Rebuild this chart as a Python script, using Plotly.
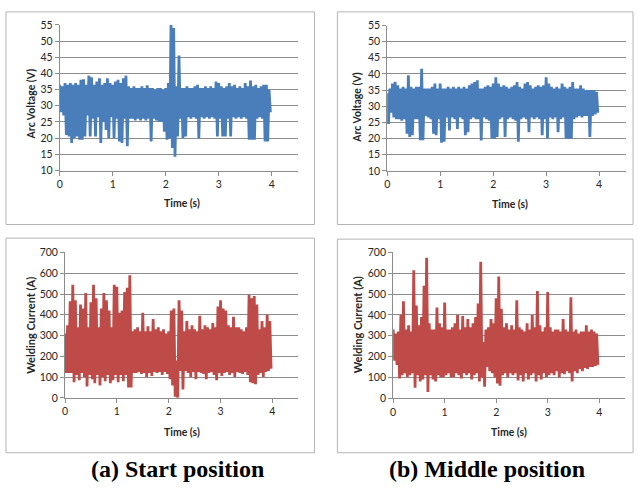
import plotly.graph_objects as go

W, H = 638, 489

# sample times: 0.00 .. 3.95 s, step 0.05 s (upper/lower envelope per sample)
t_step = 0.05

# (a) Start position - Arc Voltage (V), upper and lower envelope per sample
volt_a_high = [36.5, 36, 37, 36.5, 37, 36.5, 37, 36.5, 38, 38.2,
               36.5, 39.3, 38.8, 36.5, 37.5, 38.5, 36.5, 37, 38.5, 37,
               36.5, 37.5, 38, 37, 38.5, 39.3, 36, 35.5, 36, 35.5,
               35.5, 36, 35.5, 36.3, 35.5, 35.5, 35, 35.5, 35.5, 35,
               35.5, 37, 55, 54, 36, 45.5, 35.5, 35.5, 36, 35.5,
               35.5, 36, 36.5, 35.5, 35.5, 36, 35.5, 36, 35.5, 37.5,
               37, 36, 35.5, 36, 37, 36, 36.5, 35.5, 36, 35.5,
               37, 36, 37.8, 36, 36.5, 35.5, 36, 36.5, 36.5, 35]
volt_a_low = [28, 27, 21, 20.5, 18.5, 20, 20.5, 19.5, 19.5, 20.5,
              27, 20.5, 26, 20.5, 26.5, 18.5, 25, 22.5, 20, 26.5,
              20, 26, 19, 18.5, 26, 17.5, 26, 26, 25.5, 26,
              25.5, 26, 25.5, 26, 19, 26, 25.5, 25, 25, 22,
              19.5, 20, 17, 14.3, 20.5, 26, 20, 20.5, 26.5, 26,
              26.5, 26, 20, 26.5, 26, 26.5, 26, 26.5, 26, 20.5,
              26, 20.5, 20.5, 26, 20.5, 26.5, 26, 26.5, 26, 26.5,
              26, 19.5, 19.5, 19.5, 26, 26.5, 26, 19, 19, 28]

# (b) Middle position - Arc Voltage (V)
volt_b_high = [34, 35.5, 37, 37.6, 36.5, 35.5, 36, 35.5, 39.6, 36,
               35.5, 36, 36, 41.6, 35.5, 35.5, 35.5, 36, 37, 35.5,
               37, 35.5, 35.5, 36, 35.5, 36, 35.5, 36, 35.5, 36,
               35.5, 36.5, 37, 37.5, 38, 35.5, 35.5, 36, 36.5, 36,
               37, 39, 37, 36, 36.5, 36, 35.5, 36, 36.5, 37.5,
               36, 35.5, 37, 37.5, 36.5, 35.5, 36, 36.5, 36, 36.5,
               39, 37, 36, 35.5, 36, 35.5, 37, 36, 35.5, 36,
               37.5, 35.5, 35.5, 36.5, 35.5, 35, 35, 35, 35, 34.5]
volt_b_low = [24.5, 28, 26.5, 26, 26, 25.5, 26, 21.5, 20.5, 21,
              26, 26, 19.5, 19.5, 27, 26.5, 26, 21.5, 21, 26,
              18.7, 19, 26.5, 22.5, 26.5, 26, 23, 26.5, 26, 21,
              22, 26, 26.5, 26, 26, 19.4, 26.5, 26, 25.5, 20,
              19.9, 20.5, 26, 26.5, 20.5, 26, 26.5, 26, 25.5, 19,
              26, 26.5, 26, 22, 26.5, 26, 26.5, 26, 21, 26,
              20, 26.5, 26, 26.5, 22, 26, 26.5, 20, 19.9, 20,
              26, 26.5, 27, 26.5, 27, 27, 20.5, 27, 27.5, 28]

# (a) Start position - Welding Current (A)
curr_a_high = [310, 350, 465, 545, 470, 340, 450, 430, 505, 340,
               460, 545, 480, 340, 430, 505, 470, 420, 340, 545,
               535, 410, 420, 510, 530, 590, 320, 330, 340, 320,
               410, 320, 345, 320, 380, 330, 340, 320, 330, 310,
               320, 420, 430, 180, 470, 420, 320, 370, 330, 350,
               330, 320, 395, 330, 350, 340, 330, 360, 340, 440,
               470, 430, 420, 350, 340, 390, 340, 340, 330, 320,
               340, 495, 480, 490, 450, 330, 370, 340, 400, 370]
curr_a_low = [120, 120, 120, 75, 110, 85, 120, 100, 55, 110,
              90, 70, 110, 60, 100, 80, 110, 70, 85, 110,
              75, 110, 80, 110, 50, 50, 120, 120, 125, 115,
              120, 100, 120, 105, 125, 120, 125, 110, 125, 115,
              90, 60, 5, 0, 130, 40, 130, 120, 100, 125,
              90, 125, 120, 115, 90, 120, 125, 110, 85, 120,
              105, 120, 125, 110, 120, 100, 125, 120, 115, 125,
              110, 75, 70, 65, 110, 120, 100, 125, 130, 140]

# (b) Middle position - Welding Current (A)
curr_b_high = [330, 310, 320, 400, 465, 330, 350, 320, 615, 445,
               350, 390, 540, 675, 360, 330, 330, 435, 360, 340,
               460, 330, 330, 340, 360, 400, 330, 395, 340, 380,
               340, 360, 390, 455, 655, 270, 330, 340, 380, 360,
               480, 585, 430, 340, 360, 330, 350, 330, 470, 340,
               330, 320, 360, 330, 400, 340, 515, 350, 320, 340,
               510, 340, 320, 330, 330, 320, 380, 330, 320, 485,
               320, 330, 310, 320, 320, 350, 320, 330, 320, 310]
curr_b_low = [180, 160, 95, 110, 120, 100, 110, 120, 50, 110,
              80, 90, 110, 30, 110, 90, 80, 110, 100, 100,
              110, 120, 100, 100, 120, 110, 95, 120, 110, 120,
              90, 110, 120, 80, 100, 55, 150, 130, 120, 100,
              70, 60, 110, 120, 100, 120, 110, 120, 85, 110,
              80, 120, 90, 110, 120, 80, 110, 90, 120, 100,
              110, 120, 110, 130, 100, 120, 115, 130, 120, 80,
              130, 120, 140, 130, 145, 140, 150, 150, 155, 160]

x_ticks = [0, 1, 2, 3, 4]
volt_ticks = [10, 15, 20, 25, 30, 35, 40, 45, 50, 55]
curr_ticks = [0, 100, 200, 300, 400, 500, 600, 700]

captions = ["(a) Start position", "(b) Middle position"]
volt_title = "Arc Voltage (V)"
curr_title = "Welding Current (A)"
time_title = "Time (s)"

BLUE = "#4A7EBB"
RED = "#BE4B48"
GRID = "#8C8C8C"
FRAME = "#B4B4B4"
TXT = "#262626"
TICKFONT = "Lato"


def zigzag(high, low):
    xs, ys = [], []
    for i in range(len(high)):
        t = round(i * t_step, 4)
        xs += [t, t + t_step / 2]
        ys += [high[i], low[i]]
    return xs, ys


def px_x(p):
    return p / W


def px_y(p):
    return 1 - p / H


fig = go.Figure()

panels = [
    # (series high, low, color, axis suffix, plot px box: x0, x4.5, ytop, ybottom)
    (volt_a_high, volt_a_low, BLUE, "", (57, 296.6, 19.3, 168.7), "volt"),
    (volt_b_high, volt_b_low, BLUE, "2", (386, 625.6, 20, 169), "volt"),
    (curr_a_high, curr_a_low, RED, "3", (62.3, 296.7, 252.7, 401.7), "curr"),
    (curr_b_high, curr_b_low, RED, "4", (392, 624.9, 252.7, 402), "curr"),
]

tickfont = dict(family=TICKFONT, size=10.5, color=TXT)
for hi, lo, col, suf, box, kind in panels:
    xs, ys = zigzag(hi, lo)
    fig.add_trace(go.Scatter(x=xs, y=ys, mode="lines",
                             line=dict(color=col, width=2.8),
                             xaxis="x" + suf, yaxis="y" + suf,
                             showlegend=False, hoverinfo="skip"))
    x0, x1, yt, yb = box
    xa = dict(domain=[px_x(x0), px_x(x1)], range=[0, 4.5],
              tickvals=x_ticks, showgrid=False, zeroline=False,
              showline=True, linecolor=GRID, linewidth=1,
              ticks="outside", ticklen=4, tickcolor=GRID,
              tickfont=tickfont, anchor="y" + suf, fixedrange=True)
    if kind == "volt":
        ya = dict(range=[10, 55], tickvals=volt_ticks)
    else:
        ya = dict(range=[0, 700], tickvals=curr_ticks)
    ya.update(domain=[px_y(yb), px_y(yt)], showgrid=True, gridcolor=GRID,
              gridwidth=1, zeroline=False, showline=True, linecolor=GRID,
              linewidth=1, ticks="outside", ticklen=4, tickcolor=GRID,
              tickfont=tickfont, anchor="x" + suf, fixedrange=True)
    fig.layout["xaxis" + suf] = xa
    fig.layout["yaxis" + suf] = ya

# chart-area frames
frames = [(3, 6, 313, 224), (336, 6, 633, 224), (3, 238, 313, 458), (336, 239, 633, 458)]
shapes = []
for fx0, fy0, fx1, fy1 in frames:
    shapes.append(dict(type="rect", xref="paper", yref="paper",
                       x0=px_x(fx0), x1=px_x(fx1), y0=px_y(fy1), y1=px_y(fy0),
                       line=dict(color=FRAME, width=1), fillcolor="rgba(0,0,0,0)",
                       layer="below"))

annotations = []
for (xx, yy, txt, fs) in [(28, 100, volt_title, 10.5), (356, 104, volt_title, 10.5),
                          (28, 327, curr_title, 11), (357, 327, curr_title, 11)]:
    annotations.append(dict(x=px_x(xx), y=px_y(yy), xref="paper", yref="paper",
                            text="<b>" + txt + "</b>", textangle=-90, showarrow=False,
                            font=dict(family=TICKFONT, size=fs, color=TXT),
                            xanchor="center", yanchor="middle"))
for (xx, yy) in [(180, 202), (509, 203), (180, 437), (508, 437)]:
    annotations.append(dict(x=px_x(xx), y=px_y(yy), xref="paper", yref="paper",
                            text="<b>" + time_title + "</b>", showarrow=False,
                            font=dict(family=TICKFONT, size=10.5, color=TXT),
                            xanchor="center", yanchor="middle"))
for (xx, yy), cap in zip([(175, 475), (486, 475)], captions):
    annotations.append(dict(x=px_x(xx), y=px_y(yy), xref="paper", yref="paper",
                            text="<b>" + cap + "</b>", showarrow=False,
                            font=dict(family="Liberation Serif", size=24, color="#000000"),
                            xanchor="center", yanchor="middle"))

fig.update_layout(width=W, height=H, margin=dict(l=0, r=0, t=0, b=0),
                  paper_bgcolor="white", plot_bgcolor="white",
                  shapes=shapes, annotations=annotations, showlegend=False)

fig.write_html("out.html", config={"displayModeBar": False})
